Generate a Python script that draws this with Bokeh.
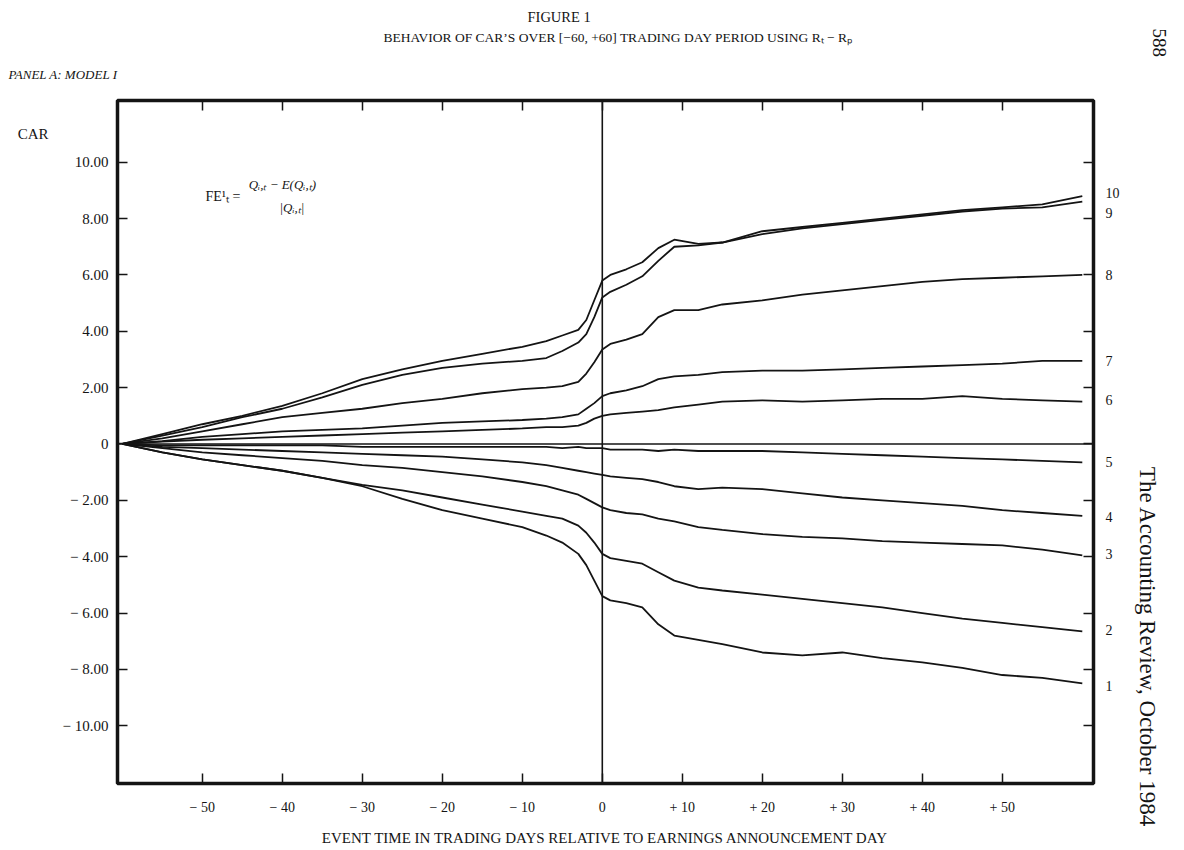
import math
from bokeh.plotting import figure
from bokeh.models import Range1d, LinearAxis, FixedTicker, Span, Label, Title
from bokeh.embed import file_html
from bokeh.resources import INLINE

# ---------------- data ----------------
days = [-60, -55, -50, -45, -40, -35, -30, -25, -20, -15, -10, -7, -5, -3, -2, -1, 0,
        1, 3, 5, 7, 9, 12, 15, 20, 25, 30, 35, 40, 45, 50, 55, 60]

car_10 = [0, 0.35, 0.7, 1.0, 1.35, 1.8, 2.3, 2.65, 2.95, 3.2, 3.45, 3.65, 3.85, 4.05, 4.4, 5.1, 5.8,
          6.0, 6.2, 6.45, 6.95, 7.25, 7.1, 7.15, 7.55, 7.7, 7.85, 8.0, 8.15, 8.3, 8.4, 8.5, 8.8]
car_9 = [0, 0.3, 0.6, 0.95, 1.25, 1.65, 2.1, 2.45, 2.7, 2.85, 2.95, 3.05, 3.3, 3.6, 3.9, 4.5, 5.2,
         5.4, 5.65, 5.95, 6.5, 7.0, 7.05, 7.15, 7.45, 7.65, 7.8, 7.95, 8.1, 8.25, 8.35, 8.4, 8.6]
car_8 = [0, 0.2, 0.45, 0.7, 0.95, 1.1, 1.25, 1.45, 1.6, 1.8, 1.95, 2.0, 2.05, 2.2, 2.5, 2.9, 3.35,
         3.55, 3.7, 3.9, 4.5, 4.75, 4.75, 4.95, 5.1, 5.3, 5.45, 5.6, 5.75, 5.85, 5.9, 5.95, 6.0]
car_7 = [0, 0.1, 0.25, 0.35, 0.45, 0.5, 0.55, 0.65, 0.75, 0.8, 0.85, 0.9, 0.95, 1.05, 1.25, 1.45, 1.7,
         1.8, 1.9, 2.05, 2.3, 2.4, 2.45, 2.55, 2.6, 2.6, 2.65, 2.7, 2.75, 2.8, 2.85, 2.95, 2.95]
car_6 = [0, 0.08, 0.15, 0.2, 0.25, 0.3, 0.35, 0.4, 0.45, 0.5, 0.55, 0.6, 0.6, 0.65, 0.75, 0.9, 1.0,
         1.05, 1.1, 1.15, 1.2, 1.3, 1.4, 1.5, 1.55, 1.5, 1.55, 1.6, 1.6, 1.7, 1.6, 1.55, 1.5]
car_5 = [0, -0.05, -0.05, -0.05, -0.05, -0.05, -0.1, -0.1, -0.1, -0.1, -0.1, -0.1, -0.15, -0.1, -0.15, -0.15, -0.15,
         -0.2, -0.2, -0.2, -0.25, -0.2, -0.25, -0.25, -0.25, -0.3, -0.35, -0.4, -0.45, -0.5, -0.55, -0.6, -0.65]
car_4 = [0, -0.1, -0.15, -0.2, -0.25, -0.3, -0.35, -0.4, -0.45, -0.55, -0.65, -0.75, -0.85, -0.95, -1.0, -1.05, -1.1,
         -1.15, -1.2, -1.25, -1.35, -1.5, -1.6, -1.55, -1.6, -1.75, -1.9, -2.0, -2.1, -2.2, -2.35, -2.45, -2.55]
car_3 = [0, -0.15, -0.3, -0.4, -0.5, -0.6, -0.75, -0.85, -1.0, -1.15, -1.35, -1.5, -1.65, -1.8, -1.95, -2.1, -2.25,
         -2.35, -2.45, -2.5, -2.65, -2.75, -2.95, -3.05, -3.2, -3.3, -3.35, -3.45, -3.5, -3.55, -3.6, -3.75, -3.95]
car_2 = [0, -0.3, -0.55, -0.75, -0.95, -1.2, -1.45, -1.65, -1.9, -2.15, -2.4, -2.55, -2.65, -2.9, -3.15, -3.5, -3.9,
         -4.05, -4.15, -4.25, -4.55, -4.85, -5.1, -5.2, -5.35, -5.5, -5.65, -5.8, -6.0, -6.2, -6.35, -6.5, -6.65]
car_1 = [0, -0.3, -0.55, -0.75, -0.95, -1.2, -1.5, -1.95, -2.35, -2.65, -2.95, -3.25, -3.5, -3.9, -4.3, -4.85, -5.4,
         -5.55, -5.65, -5.8, -6.4, -6.8, -6.95, -7.1, -7.4, -7.5, -7.4, -7.6, -7.75, -7.95, -8.2, -8.3, -8.5]

series = [car_1, car_2, car_3, car_4, car_5, car_6, car_7, car_8, car_9, car_10]

# portfolio labels on the right and where they sit
portfolio_names = ["1", "2", "3", "4", "5", "6", "7", "8", "9", "10"]
portfolio_label_y = [-8.6, -6.6, -3.9, -2.6, -0.65, 1.55, 2.95, 6.0, 8.2, 8.9]

y_ticks = [-10, -8, -6, -4, -2, 0, 2, 4, 6, 8, 10]
y_tick_labels = ["\u2212 10.00", "\u2212 8.00", "\u2212 6.00", "\u2212 4.00", "\u2212 2.00", "0",
                 "2.00", "4.00", "6.00", "8.00", "10.00"]
y_axis_name = "CAR"
y_axis_name_pos = 11.0
x_ticks = [-50, -40, -30, -20, -10, 0, 10, 20, 30, 40, 50]
x_tick_labels = ["\u2212 50", "\u2212 40", "\u2212 30", "\u2212 20", "\u2212 10", "0",
                 "+ 10", "+ 20", "+ 30", "+ 40", "+ 50"]

SERIF = "Liberation Serif"
INK = "#141414"

p = figure(width=1176, height=848,
           x_range=Range1d(-60.6, 61.4), y_range=Range1d(-12.05, 12.19),
           output_backend="svg", toolbar_location=None,
           x_axis_location=None, y_axis_location=None,
           min_border_left=117, min_border_right=83,
           min_border_top=100, min_border_bottom=62)
p.outline_line_color = INK
p.outline_line_width = 3.5
p.background_fill_color = "white"
p.border_fill_color = "white"
p.xgrid.visible = False
p.ygrid.visible = False


def style_axis(ax, size="15px"):
    ax.axis_line_color = None
    ax.major_tick_line_color = INK
    ax.major_tick_line_width = 1.5
    ax.major_tick_in = 10
    ax.major_tick_out = 0
    ax.minor_tick_line_color = None
    ax.major_label_text_font = SERIF
    ax.major_label_text_font_size = size
    ax.major_label_text_color = INK


left_ticks = y_ticks + [y_axis_name_pos]
left_labels = y_tick_labels + [y_axis_name + "\u2003\u2003\u2003\u2003"]
left = LinearAxis(ticker=FixedTicker(ticks=left_ticks, minor_ticks=y_ticks))
style_axis(left)
left.major_tick_line_color = None
left.major_tick_in = 0
left.minor_tick_line_color = INK
left.minor_tick_line_width = 1.5
left.minor_tick_in = 10
left.minor_tick_out = 0
left.major_label_overrides = {t: s for t, s in zip(left_ticks, left_labels)}
left.major_label_standoff = 9
p.add_layout(left, "left")

right = LinearAxis(ticker=FixedTicker(ticks=portfolio_label_y, minor_ticks=y_ticks))
style_axis(right, "14px")
right.major_tick_line_color = None
right.major_tick_in = 0
right.minor_tick_line_color = INK
right.minor_tick_line_width = 1.5
right.minor_tick_in = 10
right.minor_tick_out = 0
right.major_label_overrides = {t: s for t, s in zip(portfolio_label_y, portfolio_names)}
right.major_label_standoff = 12
p.add_layout(right, "right")

bottom = LinearAxis(ticker=FixedTicker(ticks=x_ticks))
style_axis(bottom, "14px")
bottom.major_label_overrides = {t: s for t, s in zip(x_ticks, x_tick_labels)}
bottom.major_label_standoff = 16
bottom.axis_label = "EVENT TIME IN TRADING DAYS RELATIVE TO EARNINGS ANNOUNCEMENT DAY"
bottom.axis_label_text_font = SERIF
bottom.axis_label_text_font_size = "15px"
bottom.axis_label_text_font_style = "normal"
bottom.axis_label_text_color = INK
bottom.axis_label_standoff = 12
p.add_layout(bottom, "below")

top = LinearAxis(ticker=FixedTicker(ticks=x_ticks))
style_axis(top, "1px")
top.major_label_text_alpha = 0
top.major_label_standoff = 0
p.add_layout(top, "above")


def title(text, where, size, align="center", offset=0, standoff=4, style="normal"):
    t = Title(text=text, align=align, offset=offset, standoff=standoff,
              text_font=SERIF, text_font_size=size, text_font_style=style,
              text_color=INK)
    p.add_layout(t, where)


title("PANEL A: MODEL I", "above", "13px", align="left", offset=-109, standoff=38, style="italic")
title("BEHAVIOR OF CAR\u2019S OVER [\u221260, +60] TRADING DAY PERIOD USING R\u209c \u2212 R\u209a",
      "above", "13.5px", align="left", offset=266, standoff=2)
title("FIGURE 1", "above", "14.5px", align="left", offset=410, standoff=3)

title("The Accounting Review, October 1984", "right", "23px", align="right", offset=-44, standoff=25)
title("588", "right", "19px", align="left", offset=-72, standoff=-43)

p.add_layout(Span(location=0, dimension="height", line_color=INK, line_width=1.6))
p.add_layout(Span(location=0, dimension="width", line_color=INK, line_width=1.6))

for s in series:
    p.line(days, s, line_color=INK, line_width=1.8)


def lab(x, y, text, size="12px", align="center", style="normal"):
    p.add_layout(Label(x=x, y=y, text=text, text_font=SERIF, text_font_size=size,
                       text_align=align, text_baseline="middle", text_font_style=style,
                       text_color=INK))


# formula inside the frame
lab(-49.6, 8.8, "FE\u00b9\u209c =", "14px", align="left")
lab(-44.2, 9.2, "Q\u1d62,\u209c \u2212 E(Q\u1d62,\u209c)", "13px", align="left", style="italic")
lab(-38.8, 8.4, "|Q\u1d62,\u209c|", "13px", align="center", style="italic")

open("out.html", "w").write(file_html(p, INLINE))
